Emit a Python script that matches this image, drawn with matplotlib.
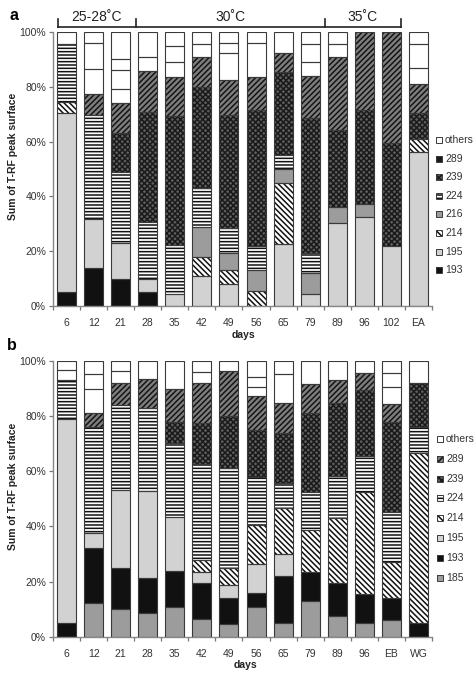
import matplotlib
matplotlib.use("Agg")
import matplotlib.pyplot as plt
import numpy as np
from matplotlib.patches import Rectangle
from matplotlib.lines import Line2D
from matplotlib import transforms

plt.rcParams['font.family'] = ['Liberation Sans', 'DejaVu Sans']
plt.rcParams['hatch.linewidth'] = 1.1

W, H = 477, 677

# ---------------- data (segment heights, % of total) ----------------
days_a = ['6', '12', '21', '28', '35', '42', '49', '56', '65', '79', '89', '96', '102', 'EA']
a_193 = [5.0, 13.8, 9.9, 5.2, 0, 0, 0, 0, 0, 0, 0, 0, 0, 0]
a_195 = [65.3, 17.8, 13.0, 4.5, 4.4, 10.9, 7.9, 0, 22.5, 4.3, 30.2, 32.6, 21.9, 56.3]
a_214 = [4.3, 0, 0, 0, 0, 6.9, 5.2, 5.6, 22.3, 0, 0, 0, 0, 4.5]
a_216 = [0, 0, 0, 0, 0, 10.9, 6.1, 7.5, 5.2, 7.9, 6.0, 4.6, 0, 0]
a_224 = [20.9, 38.1, 26.1, 20.8, 17.9, 14.3, 9.4, 8.8, 5.1, 7.3, 0, 0, 0, 0]
a_239 = [0, 0, 14.0, 40.4, 47.0, 36.8, 41.1, 49.6, 30.4, 49.0, 28.0, 34.3, 37.5, 9.5]
a_289 = [0, 7.6, 11.0, 14.9, 14.2, 11.2, 12.8, 12.2, 6.7, 15.4, 26.8, 28.5, 40.6, 10.6]
a_others = [[4.5], [9.2, 9.6, 3.9], [5.1, 7.0, 3.9, 10.0], [5.2, 9.0], [5.7, 5.7, 5.1],
            [4.6, 4.4], [9.7, 3.9, 3.9], [12.4, 3.9], [7.8], [5.3, 6.3, 4.5],
            [4.5, 4.5], [], [], [5.8, 8.8, 4.5]]

days_b = ['6', '12', '21', '28', '35', '42', '49', '56', '65', '79', '89', '96', 'EB', 'WG']
b_185 = [0, 12.3, 9.9, 8.7, 10.6, 6.3, 4.6, 10.9, 5.1, 12.9, 7.5, 5.1, 6.1, 0]
b_193 = [4.9, 19.7, 14.9, 12.7, 13.3, 13.0, 9.3, 5.0, 16.9, 10.7, 11.8, 10.3, 7.8, 5.1]
b_195 = [73.9, 5.5, 28.4, 31.4, 19.4, 4.3, 4.8, 10.3, 8.0, 0, 0, 0, 0, 0]
b_214 = [0, 0, 0, 0, 0, 4.2, 6.3, 14.3, 16.5, 15.1, 23.6, 37.1, 13.3, 61.3]
b_224 = [14.2, 38.6, 30.7, 30.2, 26.8, 34.8, 36.0, 17.5, 9.3, 13.8, 15.4, 13.0, 18.1, 9.5]
b_239 = [0, 0, 0, 0, 7.8, 14.9, 19.0, 16.9, 17.9, 28.7, 26.5, 23.9, 32.6, 16.1]
b_289 = [0, 4.8, 7.9, 10.5, 11.7, 14.3, 16.4, 12.3, 10.9, 10.2, 8.2, 6.0, 6.3, 0]
b_others = [[3.6, 3.4], [8.7, 5.5, 4.9], [4.6, 3.6], [6.5], [10.4], [4.2, 4.0], [3.6],
            [3.4, 3.6, 5.8], [10.5, 4.9], [8.6], [7.0], [4.6], [6.4, 4.8, 4.6], [8.0]]

temps = ['25-28˚C', '30˚C', '35˚C']
temp_edges = [-0.3, 2.55, 9.55, 12.35]

# ---------------- styles ----------------
STY = {
    'others': dict(fc='white', hatch=None, hc='white'),
    '289': dict(fc='#7e7e7e', hatch='//////', hc='#151515'),
    '239': dict(fc='#5e5e5e', hatch='xxxxxx', hc='#1a1a1a'),
    '224': dict(fc='white', hatch='-----', hc='#111111'),
    '216': dict(fc='#9c9c9c', hatch=None, hc='#9c9c9c'),
    '214': dict(fc='white', hatch='\\\\\\\\\\\\', hc='#111111'),
    '195': dict(fc='#d2d2d2', hatch=None, hc='#d2d2d2'),
    '193': dict(fc='#111111', hatch=None, hc='#111111'),
    '185': dict(fc='#9c9c9c', hatch=None, hc='#9c9c9c'),
}
EDGE = '#3a3a3a'
BW = 0.7
TXT = '#333333'


def fx(x):
    return x / W


def fy(y):
    return 1 - y / H


fig = plt.figure(figsize=(W / 100, H / 100), dpi=100)


def draw_seg(ax, x, h, b, key):
    s = STY[key]
    x = np.asarray(x); h = np.asarray(h, float); b = np.asarray(b, float)
    m = h > 0
    if not m.any():
        return
    ax.bar(x[m], h[m], bottom=b[m], width=BW, color=s['fc'], edgecolor=s['hc'],
           linewidth=0, hatch=s['hatch'], zorder=2)
    ax.bar(x[m], h[m], bottom=b[m], width=BW, fill=False, edgecolor=EDGE,
           linewidth=0.8, zorder=3)


def panel(rect, cats, series, others):
    ax = fig.add_axes(rect)
    x = np.arange(len(cats))
    bottom = np.zeros(len(cats))
    for key, vals in series:
        draw_seg(ax, x, vals, bottom, key)
        bottom = bottom + np.asarray(vals, float)
    nmax = max(len(o) for o in others)
    for k in range(nmax):
        h = np.array([o[k] if k < len(o) else 0 for o in others])
        draw_seg(ax, x, h, bottom, 'others')
        bottom = bottom + h
    ax.set_xlim(-0.5, len(cats) - 0.5)
    ax.set_ylim(0, 100)
    ax.set_yticks([0, 20, 40, 60, 80, 100])
    ax.set_yticklabels(['0%', '20%', '40%', '60%', '80%', '100%'])
    ax.set_xticks(x)
    ax.set_xticklabels(cats)
    ax.set_xticks(np.arange(len(cats) + 1) - 0.5, minor=True)
    ax.tick_params(axis='x', which='major', length=0, pad=9, labelsize=7.5, colors=TXT)
    ax.tick_params(axis='x', which='minor', length=3, width=0.9, color='#777777')
    ax.tick_params(axis='y', length=3, width=0.9, color='#777777', pad=2,
                   labelsize=7.5, labelcolor=TXT)
    for sp in ['top', 'right']:
        ax.spines[sp].set_visible(False)
    for sp in ['left', 'bottom']:
        ax.spines[sp].set_color('#888888')
        ax.spines[sp].set_linewidth(1.0)
    ax.set_facecolor('none')
    return ax


# ---------------- panel a ----------------
ax_a = panel([fx(53), fy(306), 379 / W, 274 / H], days_a,
             [('193', a_193), ('195', a_195), ('214', a_214), ('216', a_216),
              ('224', a_224), ('239', a_239), ('289', a_289)], a_others)

# ---------------- panel b ----------------
ax_b = panel([fx(53), fy(636.7), 379 / W, 276 / H], days_b,
             [('185', b_185), ('193', b_193), ('195', b_195), ('214', b_214),
              ('224', b_224), ('239', b_239), ('289', b_289)], b_others)

# labels
fig.text(fx(13), fy(156), 'Sum of T-RF peak surface', rotation=90, ha='center', va='center',
         fontsize=7.5, fontweight='bold', color='#222222')
fig.text(fx(13), fy(486), 'Sum of T-RF peak surface', rotation=90, ha='center', va='center',
         fontsize=7.5, fontweight='bold', color='#222222')
fig.text(fx(243), fy(335), 'days', ha='center', va='center', fontsize=7.5,
         fontweight='bold', color='#222222')
fig.text(fx(245), fy(665), 'days', ha='center', va='center', fontsize=7.5,
         fontweight='bold', color='#222222')
fig.text(fx(14), fy(16), 'a', ha='center', va='center', fontsize=11.5, fontweight='bold')
fig.text(fx(12), fy(345), 'b', ha='center', va='center', fontsize=11.5, fontweight='bold')

# temperature bracket
bt = transforms.blended_transform_factory(ax_a.transData, fig.transFigure)
line_y = fy(27)
tick_top = fy(18.5)
ax_a.add_line(Line2D([temp_edges[0], temp_edges[-1]], [line_y, line_y], transform=bt,
                     color='#222222', lw=1.2, clip_on=False))
for e in temp_edges:
    ax_a.add_line(Line2D([e, e], [line_y, tick_top], transform=bt, color='#222222',
                         lw=1.2, clip_on=False))
for i, t in enumerate(temps):
    xc = (temp_edges[i] + temp_edges[i + 1]) / 2
    ax_a.text(xc, fy(17), t, transform=bt, ha='center', va='center', fontsize=10,
              color='#222222', clip_on=False)


# legends
def legend(keys, labels, x0, ys, solid_289=False):
    for k, lab, y in zip(keys, labels, ys):
        s = dict(STY[k])
        if solid_289 and k == '289':
            s = dict(fc='#1a1a1a', hatch=None, hc='#1a1a1a')
        sz = 6
        r = Rectangle((fx(x0), fy(y + sz / 2)), sz / W, sz / H, transform=fig.transFigure,
                      facecolor=s['fc'], edgecolor=s['hc'], hatch=s['hatch'], linewidth=0)
        fig.add_artist(r)
        r2 = Rectangle((fx(x0), fy(y + sz / 2)), sz / W, sz / H, transform=fig.transFigure,
                       fill=False, edgecolor=EDGE, linewidth=0.7)
        fig.add_artist(r2)
        fig.text(fx(x0 + 9), fy(y), lab, ha='left', va='center', fontsize=7.5, color=TXT)


leg_a = ['others', '289', '239', '224', '216', '214', '195', '193']
legend(leg_a, leg_a, 436, [140, 158.6, 177.2, 195.8, 214.4, 233, 251.6, 270.2], solid_289=True)
leg_b = ['others', '289', '239', '224', '214', '195', '193', '185']
legend(leg_b, leg_b, 437, [439, 458.8, 478.6, 498.4, 518.2, 538, 557.8, 577.6])

fig.savefig('out.png', dpi=100)
